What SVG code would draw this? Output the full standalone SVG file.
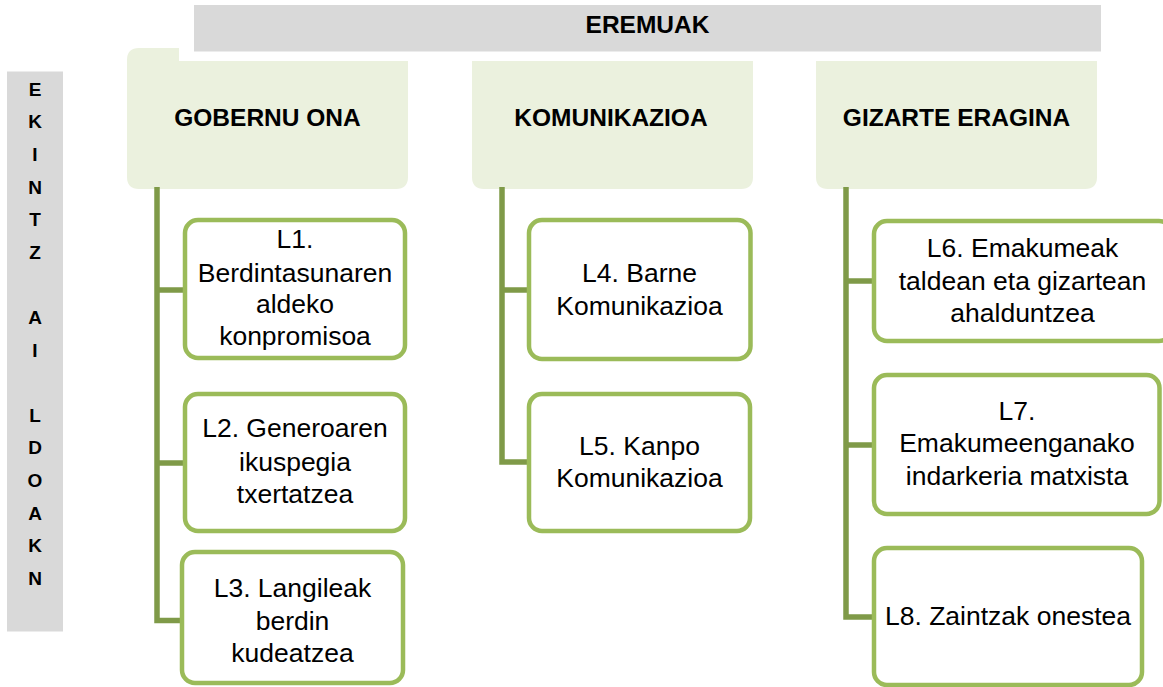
<svg xmlns="http://www.w3.org/2000/svg" width="1163" height="687" viewBox="0 0 1163 687">
<style>
.bar{fill:#D9D9D9}
.cat{fill:#EBF1DE}
.box{fill:#FFFFFF;stroke:#9BBB59;stroke-width:4.5}
.conn{fill:none;stroke:#7F9A48;stroke-width:5.5;stroke-linejoin:miter}
.hd{font-family:"Liberation Sans",Arial,sans-serif;font-weight:bold;font-size:24.5px;fill:#000;text-anchor:middle}
.vt{font-family:"Liberation Sans",Arial,sans-serif;font-weight:bold;font-size:19px;fill:#000;text-anchor:middle}
.tx{font-family:"Liberation Sans",Arial,sans-serif;font-size:26.5px;fill:#000;text-anchor:middle}
</style>
<rect width="1163" height="687" fill="#FFFFFF"/>

<g id="eremuak">
<rect class="bar" x="194" y="5" width="907" height="46.5"/>
<text class="hd" x="647.5" y="33">EREMUAK</text>
</g>

<g id="ekintzaildoakn">
<rect class="bar" x="7" y="71.5" width="56" height="560"/>
<text class="vt" x="35" y="95.7">E</text>
<text class="vt" x="35" y="128.3">K</text>
<text class="vt" x="35" y="160.9">I</text>
<text class="vt" x="35" y="193.5">N</text>
<text class="vt" x="35" y="226.1">T</text>
<text class="vt" x="35" y="258.7">Z</text>
<text class="vt" x="35" y="323.9">A</text>
<text class="vt" x="35" y="356.5">I</text>
<text class="vt" x="35" y="421.7">L</text>
<text class="vt" x="35" y="454.3">D</text>
<text class="vt" x="35" y="486.9">O</text>
<text class="vt" x="35" y="519.5">A</text>
<text class="vt" x="35" y="552.1">K</text>
<text class="vt" x="35" y="584.7">N</text>
</g>

<g id="gobernu-ona">
<path class="cat" d="M139 48 H179 V61 H408 V177 Q408 189 396 189 H139 Q127 189 127 177 V60 Q127 48 139 48 Z"/>
<text class="hd" x="267.5" y="126">GOBERNU ONA</text>
</g>
<g id="komunikazioa">
<path class="cat" d="M472 61 H753 V177 Q753 189 741 189 H484 Q472 189 472 177 Z"/>
<text class="hd" x="611" y="126">KOMUNIKAZIOA</text>
</g>
<g id="gizarte-eragina">
<path class="cat" d="M816 61 H1097 V177 Q1097 189 1085 189 H828 Q816 189 816 177 Z"/>
<text class="hd" x="956.5" y="126">GIZARTE ERAGINA</text>
</g>

<g id="connectors">
<path class="conn" d="M157 187 V620.5 H182 M157 290 H185 M157 463 H185"/>
<path class="conn" d="M502 187 V462 H529 M502 290 H529"/>
<path class="conn" d="M846 187 V617 H874 M846 281 H874 M846 445 H874"/>
</g>

<g id="l1">
<rect class="box" x="185" y="220" width="220" height="138" rx="13"/>
<text class="tx" x="295" y="248.3">L1.</text>
<text class="tx" x="295" y="281.5">Berdintasunaren</text>
<text class="tx" x="295" y="313.3">aldeko</text>
<text class="tx" x="295" y="345">konpromisoa</text>
</g>
<g id="l2">
<rect class="box" x="185" y="394" width="220" height="137" rx="13"/>
<text class="tx" x="295" y="437">L2. Generoaren</text>
<text class="tx" x="295" y="470.5">ikuspegia</text>
<text class="tx" x="295" y="502.7">txertatzea</text>
</g>
<g id="l3">
<rect class="box" x="182" y="552" width="221" height="131" rx="13"/>
<text class="tx" x="292.5" y="597">L3. Langileak</text>
<text class="tx" x="292.5" y="630">berdin</text>
<text class="tx" x="292.5" y="662">kudeatzea</text>
</g>
<g id="l4">
<rect class="box" x="529" y="220" width="221.5" height="139" rx="13"/>
<text class="tx" x="639.5" y="282">L4. Barne</text>
<text class="tx" x="639.5" y="315">Komunikazioa</text>
</g>
<g id="l5">
<rect class="box" x="529" y="394" width="221" height="137" rx="13"/>
<text class="tx" x="639.5" y="455">L5. Kanpo</text>
<text class="tx" x="639.5" y="487">Komunikazioa</text>
</g>
<g id="l6">
<rect class="box" x="874" y="221" width="298" height="120" rx="13"/>
<text class="tx" x="1022.5" y="257.3">L6. Emakumeak</text>
<text class="tx" x="1022.5" y="289.7">taldean eta gizartean</text>
<text class="tx" x="1022.5" y="322">ahalduntzea</text>
</g>
<g id="l7">
<rect class="box" x="874" y="375" width="285.5" height="139" rx="13"/>
<text class="tx" x="1017" y="420">L7.</text>
<text class="tx" x="1017" y="452">Emakumeenganako</text>
<text class="tx" x="1017" y="485">indarkeria matxista</text>
</g>
<g id="l8">
<rect class="box" x="874" y="548" width="268" height="137" rx="13"/>
<text class="tx" x="1008" y="625">L8. Zaintzak onestea</text>
</g>
</svg>
